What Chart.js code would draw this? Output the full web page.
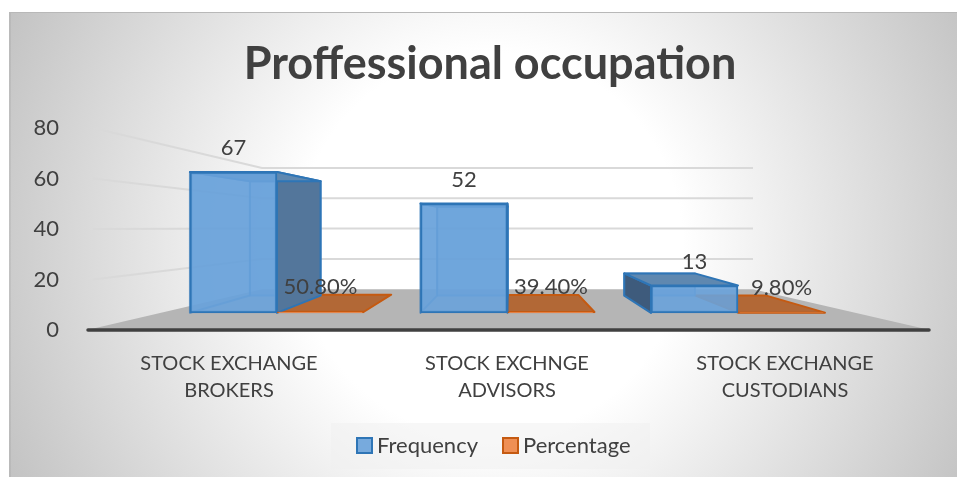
<!DOCTYPE html>
<html>
<head>
<meta charset="utf-8">
<script src="https://cdn.jsdelivr.net/npm/chart.js@4"></script>
<style>
  html, body { margin: 0; padding: 0; background: #fff; }
  #wrap { width: 957px; height: 477px; }
</style>
</head>
<body>
<div id="wrap"><canvas id="myChart" width="957" height="477"></canvas></div>
<script>
var categories = [["STOCK EXCHANGE", "BROKERS"], ["STOCK EXCHNGE", "ADVISORS"], ["STOCK EXCHANGE", "CUSTODIANS"]];
var frequency = [67, 52, 13];
var percentage = [50.8, 39.4, 9.8];
var yTicks = [0, 20, 40, 60, 80];

// 3d look: faces are worked out from the bars chart.js has laid out
var DEPTH = 0.812, VX = 509, VY = 221;
function backX(x) { return VX + DEPTH * (x - VX); }
function backY(y) { return VY + DEPTH * (y - VY); }

function poly(ctx, pts, fill, stroke, lw) {
  ctx.beginPath();
  pts.forEach(function (p, i) { i ? ctx.lineTo(p[0], p[1]) : ctx.moveTo(p[0], p[1]); });
  ctx.closePath();
  if (fill) { ctx.fillStyle = fill; ctx.fill(); }
  if (stroke) { ctx.strokeStyle = stroke; ctx.lineWidth = lw || 2; ctx.stroke(); }
}

var panel3d = {
  id: 'panel3d',
  afterLayout: function (chart) {
    // tick labels sit far left of the axis, keep them out of its clip box
    chart.scales.y.left = 30;
  },
  beforeDraw: function (chart) {
    var ctx = chart.ctx, y = chart.scales.y;
    // panel background
    ctx.save();
    var g = ctx.createRadialGradient(490, 245, 0, 490, 245, 550);
    g.addColorStop(0, '#ffffff');
    g.addColorStop(0.35, '#ffffff');
    g.addColorStop(1, '#c0c0c0');
    ctx.fillStyle = g;
    ctx.fillRect(9, 12, 948, 465);
    ctx.fillStyle = 'rgba(0,0,0,0.05)';
    ctx.fillRect(9, 12, 2, 465);
    ctx.fillStyle = '#b8b8b8';
    ctx.fillRect(9, 12, 948, 1);

    // walls: same ticks, pulled back towards the middle
    var L = 87, R = 930, BL = 262, BR = 753;
    yTicks.forEach(function (t) {
      if (t === 0) return;
      var py = y.getPixelForValue(t);
      var by = 228 + 0.6 * (py - 228);
      ctx.beginPath();
      ctx.moveTo(L + 6, py);
      ctx.lineTo(BL, by);
      ctx.lineTo(BR, by);
      ctx.strokeStyle = '#d9d9d9';
      ctx.lineWidth = 2;
      ctx.stroke();
    });

    // floor
    var y0 = y.getPixelForValue(0);
    poly(ctx, [[L, y0], [BL, 228 + 0.6 * (y0 - 228)], [BR, 228 + 0.6 * (y0 - 228)], [R, y0]], '#b5b5b5');

    // legend box
    ctx.fillStyle = 'rgba(240,240,240,0.5)';
    ctx.fillRect(331, 423, 319, 46);
    ctx.restore();
  },
  beforeDatasetsDraw: function (chart) {
    var ctx = chart.ctx;
    ctx.save();
    ctx.lineJoin = 'round';
    // percentage bars are nearly flat, only the top shows
    chart.getDatasetMeta(1).data.forEach(function (b) {
      var l = b.x - b.width / 2, r = b.x + b.width / 2, t = b.y;
      poly(ctx, [[l, t], [backX(l), backY(t)], [backX(r), backY(t)], [r, t]], '#b26836', '#c55a11', 2);
    });
    chart.getDatasetMeta(0).data.forEach(function (b) {
      var l = b.x - b.width / 2, r = b.x + b.width / 2, t = b.y, s = b.base;
      var bl = backX(l), br = backX(r), bt = backY(t), bb = backY(s);
      // back panel
      poly(ctx, [[bl, bt], [br, bt], [br, bb], [bl, bb]], 'rgba(91,155,213,0.55)', 'rgba(70,135,200,0.8)', 2);
      // side face, only seen from the outer side
      if (br > r) poly(ctx, [[r, t], [br, bt], [br, bb], [r, s]], '#53769b', '#2e75b6', 2);
      if (bl < l) poly(ctx, [[l, t], [bl, bt], [bl, bb], [l, s]], '#3e5b7c', '#2e75b6', 2);
      else poly(ctx, [[l, t], [bl, bt], [bl, bb], [l, s]], 'rgba(91,155,213,0.35)', 'rgba(46,117,182,0.7)', 2);
      // top face
      poly(ctx, [[l, t], [bl, bt], [br, bt], [r, t]], '#5f88b0', '#2e75b6', 2);
    });
    ctx.restore();
  },
  afterDatasetsDraw: function (chart) {
    var ctx = chart.ctx, y = chart.scales.y;
    ctx.save();
    // axis line
    var y0 = y.getPixelForValue(0);
    ctx.beginPath();
    ctx.moveTo(88, y0);
    ctx.lineTo(929, y0);
    ctx.strokeStyle = '#404040';
    ctx.lineWidth = 3.5;
    ctx.lineCap = 'round';
    ctx.stroke();

    // value labels
    ctx.font = '22px Lato';
    ctx.fillStyle = '#404040';
    ctx.textAlign = 'center';
    ctx.textBaseline = 'middle';
    chart.getDatasetMeta(0).data.forEach(function (b, i) {
      ctx.fillText(String(frequency[i]), b.x, b.y - 24);
    });
    chart.getDatasetMeta(1).data.forEach(function (b, i) {
      ctx.fillText(percentage[i].toFixed(2) + '%', b.x, b.y - 25);
    });

    // legend, placed by hand because the built-in one spaces the keys too wide
    var keys = [[357, 377], [503, 523]];
    chart.data.datasets.forEach(function (d, i) {
      poly(ctx, [[keys[i][0], 438], [keys[i][0] + 15, 438], [keys[i][0] + 15, 453], [keys[i][0], 453]], d.backgroundColor, d.borderColor, 2);
      ctx.fillStyle = '#404040';
      ctx.textAlign = 'left';
      ctx.fillText(d.label, keys[i][1], 446);
    });
    ctx.restore();
  }
};

var ctx = document.getElementById('myChart').getContext('2d');
var myChart = new Chart(ctx, {
  type: 'bar',
  data: {
    labels: categories,
    datasets: [{
      label: 'Frequency',
      data: frequency.map(function (v, i) { return { x: i, y: v }; }),
      xAxisID: 'x2',
      yAxisID: 'y2',
      backgroundColor: 'rgba(105,162,218,0.9)',
      borderColor: '#2e75b6',
      borderWidth: 2,
      borderSkipped: false,
      barThickness: 87
    }, {
      label: 'Percentage',
      // plotted as a fraction, the way the sheet holds it
      data: percentage.map(function (v, i) { return { x: i, y: v / 100 }; }),
      xAxisID: 'x2',
      yAxisID: 'y2',
      backgroundColor: '#ef8f54',
      borderColor: '#c55a11',
      borderWidth: 2,
      borderSkipped: false,
      barThickness: 87
    }]
  },
  options: {
    responsive: false,
    animation: false,
    layout: { padding: { left: 56, right: 33, top: 37, bottom: 61 } },
    plugins: {
      title: {
        display: true,
        text: 'Proffessional occupation',
        color: '#404040',
        font: { family: 'Lato', size: 45, weight: 'bold' },
        padding: { top: 0, bottom: 37 }
      },
      legend: { display: false },
      tooltip: { enabled: false }
    },
    scales: {
      x: {
        type: 'category',
        grid: { display: false },
        border: { display: false },
        ticks: { color: '#404040', font: { family: 'Lato', size: 20, lineHeight: 1.35 }, maxRotation: 0, autoSkip: false, padding: 12 }
      },
      y: {
        min: 0,
        max: 80,
        afterFit: function (s) { s.width = 34; },
        grid: { display: false },
        border: { display: false },
        ticks: { stepSize: 20, color: '#404040', font: { family: 'Lato', size: 22 }, padding: 23 }
      },
      // hidden scales for the bars: they stand further back than the axis front
      x2: { type: 'linear', display: false, offset: false, min: -0.811, max: 2.807 },
      y2: { type: 'linear', display: false, min: -8.17, max: 87.98 }
    }
  },
  plugins: [panel3d]
});
</script>
</body>
</html>
